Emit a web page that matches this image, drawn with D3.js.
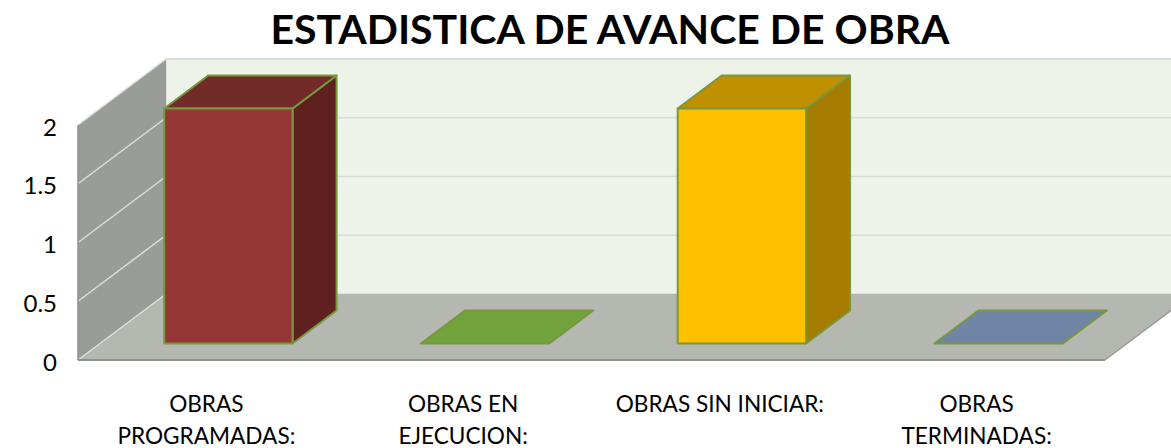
<!DOCTYPE html>
<html>
<head>
<meta charset="utf-8">
<script src="https://cdn.jsdelivr.net/npm/d3@7"></script>
<style>
  html, body { margin: 0; padding: 0; background: #fff; overflow: hidden; }
  text { font-family: Lato, "Open Sans", sans-serif; fill: #000; }
</style>
</head>
<body>
<div id="my_dataviz"></div>
<script>
// chart values
const categories = ["OBRAS PROGRAMADAS:", "OBRAS EN EJECUCION:", "OBRAS SIN INICIAR:", "OBRAS TERMINADAS:"];
const labelLines = [["OBRAS", "PROGRAMADAS:"], ["OBRAS EN", "EJECUCION:"], ["OBRAS SIN INICIAR:"], ["OBRAS", "TERMINADAS:"]];
const values = [2, 0, 2, 0];
const yTicks = [0, 0.5, 1, 1.5, 2];
const yLabels = ["0", "0.5", "1", "1.5", "2"];
const fronts = ["#953735", "#71a23c", "#ffc000", "#7085a6"];
const tops = ["#722b29", "#71a23c", "#c09000", "#7085a6"];
const sides = ["#5f2120", "#5a8230", "#a67c00", "#5a6b85"];

const width = 1171, height = 448;

var svg = d3.select("#my_dataviz")
  .append("svg")
  .attr("width", width)
  .attr("height", height)
  .style("display", "block");

// scales sit on the front plane of the 3d box
var x = d3.scaleBand().domain(categories).range([78, 1105]);
var y = d3.scaleLinear().domain([0, 2]).range([360, 125]);

// oblique depth of the box
const depthX = 88, depthY = -66;
const wallTop = y(2) + depthY;
const floorY = y(0);

const poly = (pts) => pts.map(p => p.join(",")).join(" ");
const shift = (px, py, t) => [px + depthX * t, py + depthY * t];

// back wall
svg.append("rect")
  .attr("x", x.range()[0] + depthX).attr("y", wallTop)
  .attr("width", width).attr("height", floorY + depthY - wallTop)
  .attr("fill", "#eef3ea")
  .attr("stroke", "#d9dcd6").attr("stroke-width", 1.5);

// left wall
svg.append("polygon")
  .attr("points", poly([[78, y(2)], shift(78, y(2), 1), shift(78, y(0), 1), [78, y(0)]]))
  .attr("fill", "#9a9c98");

// floor
svg.append("polygon")
  .attr("points", poly([[78, floorY], shift(78, floorY, 1), shift(1105, floorY, 1), [1105, floorY]]))
  .attr("fill", "#b5b7b1");

// gridlines on both walls
yTicks.forEach(t => {
  if (t > 0) {
    svg.append("line")
      .attr("x1", 78 + depthX).attr("x2", width)
      .attr("y1", y(t) + depthY).attr("y2", y(t) + depthY)
      .attr("stroke", "#d9dcd6").attr("stroke-width", 1.5);
  }
  svg.append("line")
    .attr("x1", 78).attr("y1", y(t))
    .attr("x2", 78 + depthX).attr("y2", y(t) + depthY)
    .attr("stroke", "#dcdeda").attr("stroke-width", 1.5);
});

// box edges
svg.append("line")
  .attr("x1", 78).attr("x2", 1105).attr("y1", floorY).attr("y2", floorY)
  .attr("stroke", "#8e908c").attr("stroke-width", 2);
svg.append("line")
  .attr("x1", 78).attr("x2", 78).attr("y1", y(2)).attr("y2", floorY)
  .attr("stroke", "#8e908c").attr("stroke-width", 1.5);
svg.append("line")
  .attr("x1", 1105).attr("y1", floorY).attr("x2", 1105 + depthX).attr("y2", floorY + depthY)
  .attr("stroke", "#9a9c98").attr("stroke-width", 1.5);

// bars: front at 1/4 of the depth, half as deep as the box
const barW = x.bandwidth() / 2;
const barStroke = "#77983c";
var bars = svg.append("g")
  .selectAll("g")
  .data(categories)
  .enter()
  .append("g")
  .attr("stroke", barStroke)
  .attr("stroke-width", 2)
  .attr("stroke-linejoin", "round");

const dx = depthX / 2, dy = depthY / 2;
const x0 = (d) => x(d) + x.bandwidth() / 4 + depthX / 4;
const base = y(0) + depthY / 4;
const topY = (i) => y(values[i]) + depthY / 4;

// side face
bars.filter((d, i) => values[i] > 0)
  .append("polygon")
  .attr("points", (d, i) => {
    const r = x0(d) + barW, t = topY(categories.indexOf(d));
    return poly([[r, t], [r + dx, t + dy], [r + dx, base + dy], [r, base]]);
  })
  .attr("fill", (d) => sides[categories.indexOf(d)]);

// top face
bars.append("polygon")
  .attr("points", (d) => {
    const l = x0(d), t = topY(categories.indexOf(d));
    return poly([[l, t], [l + barW, t], [l + barW + dx, t + dy], [l + dx, t + dy]]);
  })
  .attr("fill", (d) => tops[categories.indexOf(d)]);

// front face
bars.filter((d, i) => values[i] > 0)
  .append("rect")
  .attr("x", (d) => x0(d))
  .attr("y", (d) => topY(categories.indexOf(d)))
  .attr("width", barW)
  .attr("height", (d) => base - topY(categories.indexOf(d)))
  .attr("fill", (d) => fronts[categories.indexOf(d)]);

// Add Y axis
var yAxis = svg.append("g")
  .attr("transform", "translate(78,0)")
  .call(d3.axisLeft(y).tickValues(yTicks).tickSize(0).tickPadding(21).tickFormat((d, i) => yLabels[i]));
yAxis.select(".domain").remove();
yAxis.selectAll("text").attr("font-size", 24).attr("font-family", null).attr("dy", "0.42em");

// Add X axis, labels broken on two lines
var xAxis = svg.append("g")
  .attr("transform", "translate(0," + floorY + ")")
  .call(d3.axisBottom(x).tickSize(0).tickFormat(""));
xAxis.select(".domain").remove();
xAxis.selectAll("text")
  .attr("font-size", 22.6)
  .attr("font-family", null)
  .attr("y", 0)
  .attr("dy", null)
  .each(function (d, i) {
    d3.select(this).selectAll("tspan")
      .data(labelLines[i])
      .enter()
      .append("tspan")
      .attr("x", 0)
      .attr("y", (l, j) => 52 + j * 32)
      .text(l => l);
  });

// title
svg.append("text")
  .attr("x", 610)
  .attr("y", 44)
  .attr("text-anchor", "middle")
  .attr("font-size", 41)
  .attr("font-weight", "bold")
  .text("ESTADISTICA DE AVANCE DE OBRA");
</script>
</body>
</html>
